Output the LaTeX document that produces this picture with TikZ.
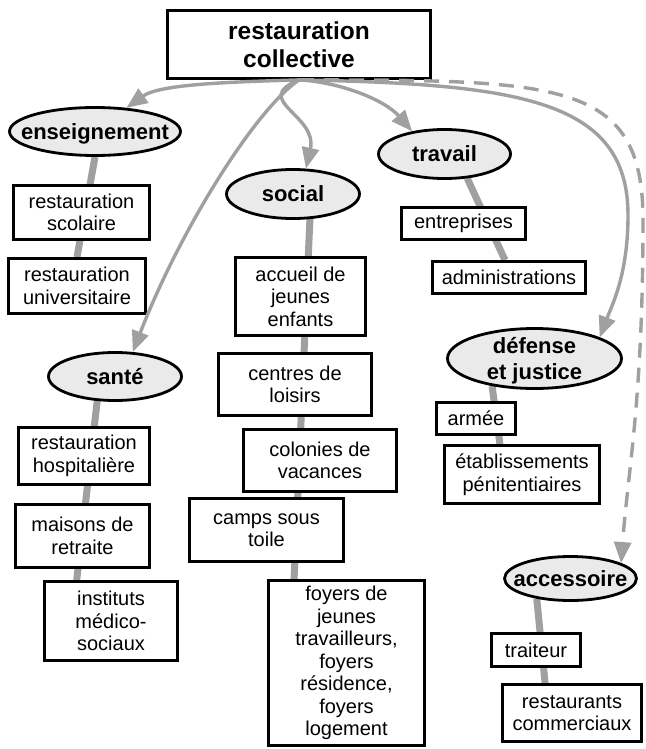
\documentclass[tikz,border=0pt]{standalone}
\usepackage{fontspec}
\setmainfont{Liberation Sans}
\usetikzlibrary{arrows.meta,shapes.geometric,backgrounds}

\definecolor{linkGray}{HTML}{A0A0A0}
\definecolor{catFill}{HTML}{EAEAEA}

% category label: fixed ellipse size, text may overflow it
\newcommand{\catlbl}[1]{\makebox[0pt]{\raisebox{-.35em}[0pt][0pt]{%
    \begin{tabular}{@{}c@{}}#1\end{tabular}}}}

\begin{document}
\begin{tikzpicture}[
    x=1pt, y=-1pt,
    wh/.style 2 args={minimum width=#1pt, minimum height=#2pt},
    box/.style={draw=black, line width=2.8pt, fill=white, align=center,
                inner sep=3pt, font=\fontsize{20}{22.5}\selectfont},
    cat/.style={ellipse, draw=black, line width=2.8pt, fill=catFill,
                inner sep=0pt, font=\fontsize{22}{26}\selectfont\bfseries},
    link/.style={linkGray, line width=3.4pt,
                 -{Triangle[length=21pt, width=17pt]}},
    spine/.style={linkGray, line width=7pt},
]
\useasboundingbox (0,0) rectangle (645,749);

% --- Root ---
\node[box, font=\fontsize{24.5}{28.5}\selectfont\bfseries, wh={263}{68}]
    (root) at (299,44.5) {restauration\\collective};

% --- Categories ---
\node[cat, wh={171}{48}] (ens)   at (95,131.5)   {\catlbl{enseignement}};
\node[cat, wh={133}{48}] (sante) at (115,376.5)  {\catlbl{santé}};
\node[cat, wh={133}{49}] (soc)   at (293,194)    {\catlbl{social}};
\node[cat, wh={132}{49}] (trav)  at (444.5,154)  {\catlbl{travail}};
\node[cat, wh={174}{60}] (def)   at (534.5,358.5){\catlbl{défense\\et justice}};
\node[cat, wh={132}{44}] (accs)  at (570.5,578.5){\catlbl{accessoire}};

% --- Enseignement / santé ---
\node[box, wh={136}{54}] (scol) at (81.5,212.5) {restauration\\scolaire};
\node[box, wh={137}{55}] (univ) at (77,286)     {restauration\\universitaire};
\node[box, wh={131}{57}] (hosp) at (84,456)     {restauration\\hospitalière};
\node[box, wh={134}{63}] (mais) at (82.5,536)   {maisons de\\retraite};
\node[box, wh={133}{79}] (inst) at (111,621)    {instituts\\médico-\\sociaux};

% --- Social ---
\node[box, wh={130}{78}] (accu)    at (300.5,296.5) {accueil de\\jeunes\\enfants};
\node[box, wh={153}{62}] (loisirs) at (295,384.5)   {centres de\\loisirs};
\node[box, wh={153}{62}] (colo)    at (320,460.5)   {colonies de\\vacances};
\node[box, wh={154}{63}] (camps)   at (266.5,530)   {camps sous\\toile};
\node[box, wh={156}{165}] (foyers) at (346.5,663)
    {foyers de\\jeunes\\travailleurs,\\foyers\\résidence,\\foyers\\logement};

% --- Travail / défense / accessoire ---
\node[box, wh={124}{32}] (entr)  at (463.5,223.5) {entreprises};
\node[box, wh={153}{32}] (admin) at (509,277.5)   {administrations};
\node[box, wh={79}{32}]  (armee) at (476,418.5)   {armée};
\node[box, wh={155}{58}] (etab)  at (522,474.5)   {établissements\\pénitentiaires};
\node[box, wh={89}{33}]  (trait) at (536,650)     {traiteur};
\node[box, wh={139}{57}] (resto) at (572,713)     {restaurants\\commerciaux};

% thick spines behind the boxes
\begin{scope}[on background layer]
\draw[spine] (ens.south) -- (univ.north);
\draw[spine] (sante.234) -- (inst.130);
\draw[spine] (soc.304)   -- (foyers.122);
\draw[spine] (trav.313)  -- (admin.103);
\draw[spine] (def.213)   -- (etab.126);
\draw[spine] (accs.211)  -- (resto.132);
\end{scope}

% links from the root
\draw[link] (root.south) .. controls (230,82) and (160,84) .. (ens.37);
\draw[link] (root.south) .. controls (255,110) and (180,230) .. (sante.54);
\draw[link] (root.south) .. controls (250,100) and (318,115) .. (soc.63);
\draw[link] (root.south) .. controls (340,82) and (385,100) .. (trav.145);
\draw[link] (root.south) .. controls (520,84) and (628,100) .. (628,215)
    .. controls (628,275) and (612,305) .. (def.18);
\draw[link, dash pattern=on 15pt off 10pt]
    (root.south) .. controls (560,80) and (643,80) .. (643,220)
    .. controls (643,400) and (628,470) .. (accs.17);

\end{tikzpicture}
\end{document}
